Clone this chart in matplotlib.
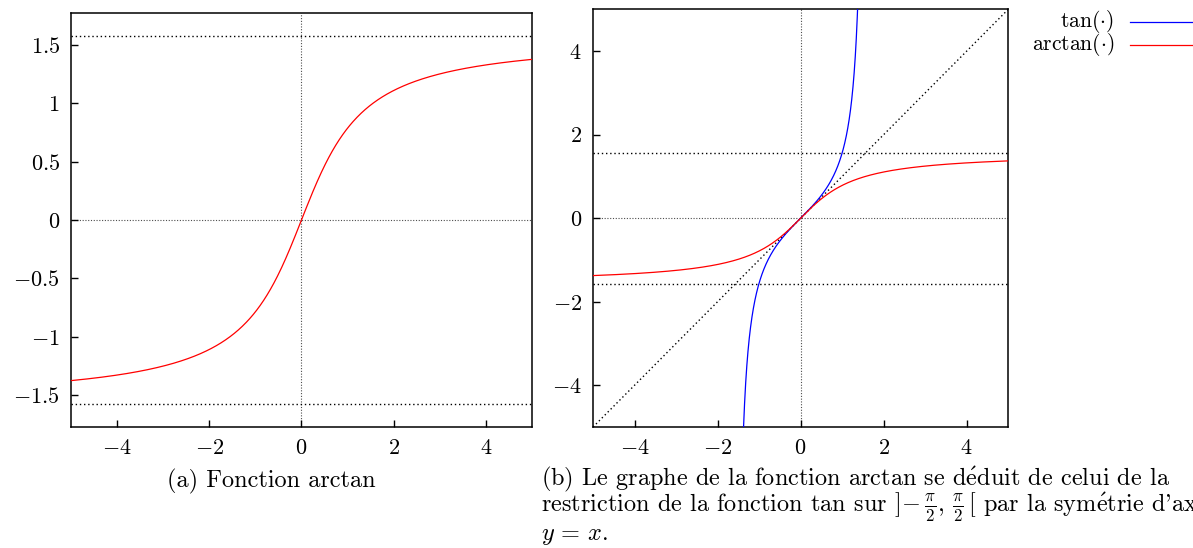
import numpy as np
import matplotlib.pyplot as plt
from matplotlib.lines import Line2D

plt.rcParams['font.family'] = ['cmr10', 'DejaVu Serif']
plt.rcParams['mathtext.fontset'] = 'cm'
plt.rcParams['axes.formatter.use_mathtext'] = True
plt.rcParams['font.size'] = 16

# domains and asymptote levels
x_range = [-5, 5]
half_pi = np.pi / 2
xticks = [-4, -2, 0, 2, 4]
yticks_a = [-1.5, -1, -0.5, 0, 0.5, 1, 1.5]
yticks_b = [-4, -2, 0, 2, 4]
ylim_a = [-1.77, 1.77]
ylim_b = [-5, 5]

x = np.linspace(x_range[0], x_range[1], 800)
x_tan = np.linspace(-np.arctan(5), np.arctan(5), 800)

dot_axis = dict(color='0.3', lw=0.8, ls=(0, (1, 1.5)), zorder=1)
dot_line = dict(color='black', lw=1.0, ls=(0, (1, 2)), zorder=1)


def tex(v):
    return '$%g$' % v


def style(ax, yticks):
    ax.set_xlim(x_range)
    ax.set_xticks(xticks, [tex(v) for v in xticks])
    ax.set_yticks(yticks, [tex(v) for v in yticks])
    ax.tick_params(direction='in', length=5, width=1, pad=8, labelsize=16,
                   top=False, right=False)
    for s in ax.spines.values():
        s.set_linewidth(1.1)
    ax.axhline(0, **dot_axis)
    ax.axvline(0, **dot_axis)
    ax.axhline(half_pi, **dot_line)
    ax.axhline(-half_pi, **dot_line)


fig = plt.figure(figsize=(11.93, 5.48), dpi=100)

# (a) arctan alone
ax1 = fig.add_axes([0.0595, 0.2208, 0.3864, 0.7555])
style(ax1, yticks_a)
ax1.set_ylim(ylim_a)
ax1.plot(x, np.arctan(x), color='red', lw=0.9, zorder=3)

# (b) tan, arctan and the line y = x
ax2 = fig.add_axes([0.4971, 0.2208, 0.3479, 0.7619])
style(ax2, yticks_b)
ax2.set_ylim(ylim_b)
ax2.plot(x, x, **dot_line)
ax2.plot(x_tan, np.tan(x_tan), color='blue', lw=0.9, zorder=3)
ax2.plot(x, np.arctan(x), color='red', lw=0.9, zorder=4)

# legend drawn by hand so the labels are right aligned
for yy, lab, col in [(21.5, r'$\tan(\cdot)$', 'blue'), (45, r'$\arctan(\cdot)$', 'red')]:
    yf = 1 - yy / 548
    fig.text(1114 / 1193, yf, lab, ha='right', va='center', fontsize=15.5)
    fig.add_artist(Line2D([1130 / 1193, 1.02], [yf, yf], color=col, lw=0.9,
                          transform=fig.transFigure))

cap = 17.5
e_acc = r'$\mathrm{\acute{e}}$'
fig.text(271 / 1193, 1 - 487 / 548, '(a) Fonction arctan', ha='center', va='baseline', fontsize=cap)
cap_x = 541 / 1193
fig.text(cap_x, 1 - 485 / 548,
         '(b) Le graphe de la fonction arctan se d' + e_acc + 'duit de celui de la',
         ha='left', va='baseline', fontsize=cap)
fig.text(cap_x, 1 - 512 / 548,
         r'restriction de la fonction tan sur $]\!-\frac{\pi}{2},\,\frac{\pi}{2}\,[$ par la sym'
         + e_acc + "trie d'axe",
         ha='left', va='baseline', fontsize=cap)
fig.text(cap_x, 1 - 540 / 548, r'$y\,=\,x$.', ha='left', va='baseline', fontsize=cap)

fig.savefig('out.png', dpi=100)
